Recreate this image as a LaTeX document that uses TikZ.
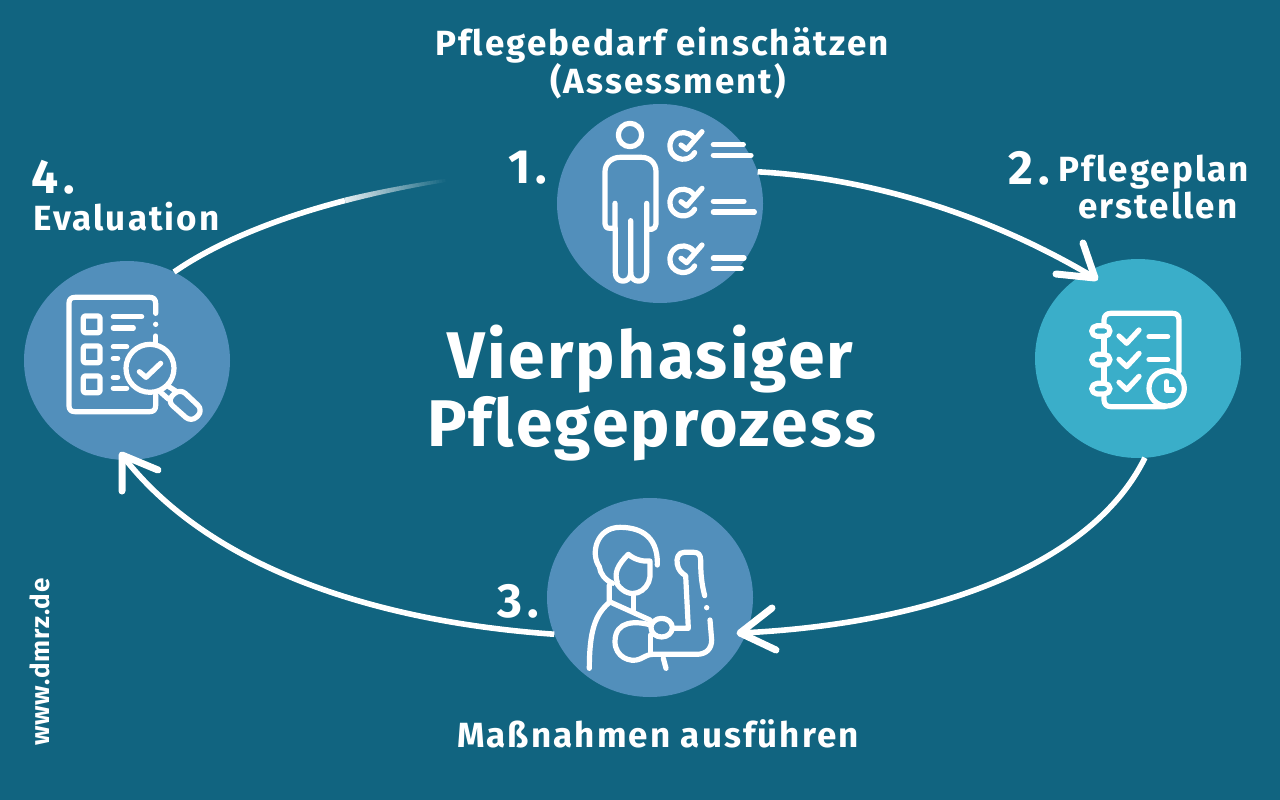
\documentclass[tikz,border=0pt]{standalone}
\usepackage{fontspec}
\setmainfont{Fira Sans}[Ligatures=CommonOff]
\usetikzlibrary{shapes.geometric}
\definecolor{bgc}{RGB}{17,100,128}
\definecolor{bub}{RGB}{82,143,187}
\definecolor{cya}{RGB}{58,174,201}
\tikzset{
 disc/.style={ellipse,draw=none,fill=#1,minimum width=206pt,minimum height=199pt,inner sep=0pt,outer sep=0pt},
 arc line/.style={draw=white,line width=5.6pt,line cap=butt},
 head line/.style={draw=white,line width=7pt,line cap=round,line join=round},
 icon/.style={draw=white,line width=5.2pt,line cap=round,line join=round},
 lab/.style={text=white,font=\fontsize{35}{40}\bfseries\addfontfeature{LetterSpace=6},anchor=base,inner sep=0pt},
 num/.style={text=white,font=\fontsize{48}{50}\bfseries\addfontfeature{LetterSpace=10},anchor=base,inner sep=0pt},
 ttl/.style={text=white,font=\fontsize{66}{70}\bfseries\addfontfeature{LetterSpace=3.5},anchor=base,inner sep=0pt},
 zoomed/.style={x=0.33333pt,y=-0.33333pt}
}
\begin{document}
\begin{tikzpicture}[x=1pt,y=-1pt]
\useasboundingbox (0,0) rectangle (1280,800);
\fill[bgc] (0,0) rectangle (1280,800);
% discs
\node[disc=bub] (c1) at (660,203.5) {};
\node[disc=cya] (c2) at (1138,358.5) {};
\node[disc=bub] (c3) at (650,597.5) {};
\node[disc=bub] (c4) at (127,360.5) {};
% connector ends
\coordinate (t2) at (1095,278);
\coordinate (t3) at (740,633);
\coordinate (t4) at (122,455);
\coordinate (f4) at (345,200.5);
% connectors
\draw[arc line] (c1.18.6) .. controls (870,178) and (990,215) .. (t2);
\draw[arc line] (c2.-86) .. controls (1090,570) and (920,625) .. (t3);
\draw[arc line] (c3.-159) .. controls (380,622) and (210,570) .. (t4);
\draw[arc line] (c4.62) .. controls (220,240) and (285,216) .. (f4);
% fading end of the last connector
\foreach \i in {0,...,33}{
  \pgfmathsetmacro{\ta}{\i/34}
  \pgfmathsetmacro{\tb}{(\i+1.15)/34}
  \pgfmathsetmacro{\xa}{345+100*\ta}
  \pgfmathsetmacro{\xb}{345+100*\tb}
  \pgfmathsetmacro{\ya}{200.5-25*\ta+5*\ta*\ta}
  \pgfmathsetmacro{\yb}{200.5-25*\tb+5*\tb*\tb}
  \pgfmathsetmacro{\mx}{88*(1-\ta)}
  \pgfmathsetmacro{\wd}{5.6-2.4*\ta}
  \draw[white!\mx!bgc,line width=\wd pt] (\xa,\ya) -- (\xb,\yb);
}
% arrow heads
\draw[head line] (1056,274) -- (t2) -- (1083,243);
\draw[head line] (772,608) -- (t3) -- (776,650);
\draw[head line] (122,491) -- (t4) -- (158,470);
% texts
\node[lab] (l1a) at (662,56) {Pflegebedarf einschätzen};
\node[lab] (l1b) at (668,93) {(Assessment)};
\node[num] (n1) at (528,183) {1.};
\node[num] (n2) at (1029,184) {2.};
\node[lab] (l2a) at (1154,181) {Pflegeplan};
\node[lab] (l2b) at (1158,218) {erstellen};
\node[num] (n3) at (518,617) {3.};
\node[lab] (l3) at (658,747) {Maßnahmen ausführen};
\node[num] (n4) at (53,193) {4.};
\node[lab] (l4) at (126.5,230) {Evaluation};
\node[ttl] (t1a) at (650.5,378) {Vierphasiger};
\node[ttl] (t1b) at (651.5,446) {Pflegeprozess};
\node[text=white,font=\fontsize{26}{28}\bfseries\addfontfeature{LetterSpace=3},rotate=90,anchor=base,inner sep=0pt] (url) at (49,662) {www.dmrz.de};
% icon 1
\begin{scope}[shift={(550,100)},zoomed]
\draw[icon] (240,105) circle[radius=35];
\draw[icon] (195,310) -- (195,385) -- (180,385) .. controls (170,385) and (165,380) .. (165,372) -- (165,215)
  .. controls (165,190) and (185,172) .. (210,172) -- (275,172) .. controls (300,172) and (318,190) .. (318,215)
  -- (318,372) .. controls (318,380) and (312,388) .. (305,388) -- (290,388) -- (290,310);
\draw[icon] (196,385) -- (196,518) .. controls (196,552) and (242,552) .. (242,518) -- (242,362);
\draw[icon] (242,518) .. controls (242,552) and (290,552) .. (290,518) -- (290,388);
\foreach \d in {0,170,340}{
 \begin{scope}[yshift=-\d*0.33333pt]
 \draw[icon] (430,112) arc[start angle=-40,end angle=-330,radius=40] ;
 \draw[icon] (393,135) -- (410,148) -- (456,95);
 \end{scope}
}
\draw[icon] (490,134) -- (580,134);
\draw[icon] (490,166) -- (603,166);
\draw[icon] (490,304) -- (582,304);
\draw[icon] (490,336) -- (613,336);
\draw[icon] (490,474) -- (582,474);
\draw[icon] (490,506) -- (574,506);
\end{scope}
% icon 2
\begin{scope}[shift={(1030,255)},zoomed]
\draw[icon] (222,205) -- (222,195) .. controls (222,182) and (230,175) .. (242,175) -- (428,175)
  .. controls (440,175) and (447,182) .. (447,195) -- (447,350);
\draw[icon] (222,250) -- (222,292);
\draw[icon] (222,336) -- (222,380);
\draw[icon] (222,425) -- (222,435) .. controls (222,447) and (230,455) .. (242,455) -- (405,455);
\foreach \d in {228,314,401}{
 \draw[icon,rounded corners=5.5pt] (185,\d-16) rectangle (240,\d+16);
}
\foreach \d in {0,70,139}{
 \draw[icon] (267,243+\d) -- (290,265+\d) -- (327,225+\d);
}
\draw[icon] (357,245) -- (413,245);
\draw[icon] (357,314) -- (413,314);
\draw[icon,fill=cya] (410,400) circle[radius=53];
\draw[icon] (410,380) -- (410,405) -- (430,405);
\end{scope}
% icon 3
\begin{scope}[shift={(540,495)},zoomed]
\draw[icon] (218,265) .. controls (195,255) and (180,235) .. (178,215) .. controls (150,175) and (170,97) .. (240,97)
  .. controls (290,97) and (355,115) .. (352,210);
\draw[icon] (232,262) .. controls (222,235) and (232,210) .. (265,178) .. controls (285,195) and (310,200) .. (330,198)
  -- (330,245) .. controls (325,290) and (270,320) .. (232,268);
\draw[icon] (208,270) -- (208,320) -- (330,375);
\draw[icon] (280,302) -- (280,345);
\draw[icon] (205,325) .. controls (165,360) and (148,410) .. (148,520);
\draw[icon] (365,398) ellipse[x radius=32,y radius=28];
\draw[icon] (332,390) .. controls (290,378) and (225,375) .. (225,440) .. controls (225,485) and (270,505) .. (300,492)
  .. controls (320,482) and (325,478) .. (340,478) -- (470,478) .. controls (500,478) and (515,460) .. (515,435) -- (510,375);
\draw[icon] (332,420) -- (332,478);
\draw[icon] (370,490) -- (378,520);
\fill[white] (500,338) circle[radius=8];
\draw[icon] (494,302) .. controls (485,265) and (482,240) .. (482,195) .. controls (482,180) and (475,172) .. (462,172)
  -- (432,172) .. controls (415,172) and (408,190) .. (412,208) .. controls (415,225) and (425,235) .. (437,242)
  -- (445,400) -- (400,400);
\end{scope}
% icon 4
\begin{scope}[shift={(20,255)},zoomed]
\draw[icon] (407,175) -- (407,145) .. controls (407,133) and (400,127) .. (390,127) -- (165,127)
  .. controls (153,127) and (147,133) .. (147,145) -- (147,452) .. controls (147,464) and (153,470) .. (165,470)
  -- (390,470) .. controls (400,470) and (407,464) .. (407,452) -- (407,420);
\fill[white] (407,208) circle[radius=8];
\draw[icon] (407,243) -- (407,265);
\foreach \d in {183,273,363}{
 \draw[icon,rounded corners=1.5pt] (190,\d) rectangle (240,\d+50);
}
\draw[icon] (280,185) -- (365,185);
\draw[icon] (280,219) -- (340,219);
\draw[icon] (280,275) -- (320,275);
\draw[icon] (280,310) -- (293,310);
\draw[icon] (280,367) -- (293,367);
\draw[icon] (280,400) -- (320,400);
\draw[icon] (390,340) circle[radius=72];
\draw[icon] (358,350) -- (378,367) -- (422,325);
\draw[icon,rounded corners=7.5pt] (480,400) -- (550,466) -- (514,502) -- (441,437) -- cycle;
\draw[icon] (442,392) -- (470,410);
\draw[icon] (420,410) -- (445,432);
\end{scope}
\end{tikzpicture}
\end{document}
